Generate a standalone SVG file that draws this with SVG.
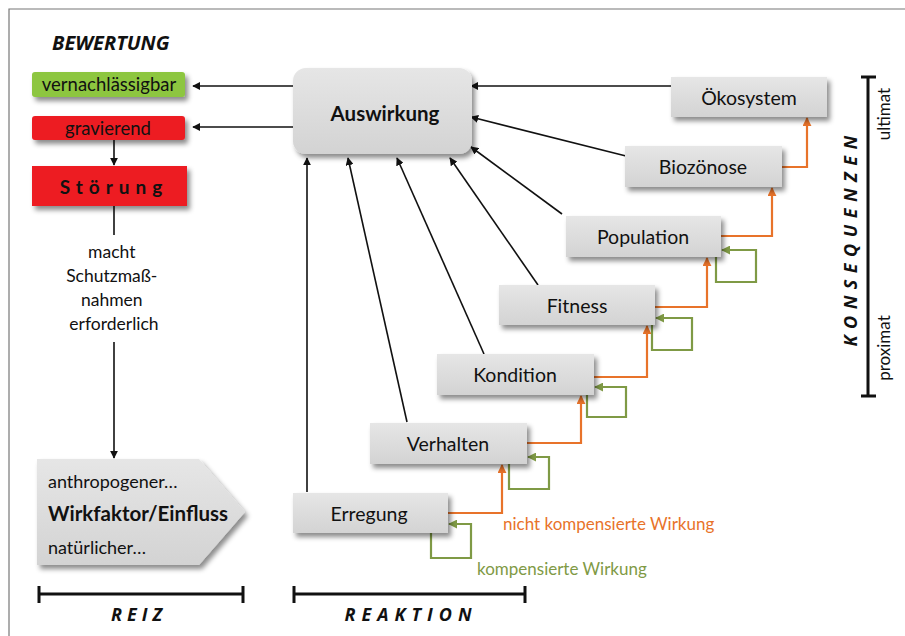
<svg xmlns="http://www.w3.org/2000/svg" width="905" height="636" viewBox="0 0 905 636">
<style>
.t{font-family:Lato,"Open Sans","Liberation Sans",sans-serif;fill:#111}
.box{fill:url(#gg);filter:url(#sh)}
.k{stroke:#111;stroke-width:1.6;fill:none}
.o{stroke:#e8732a;stroke-width:2.2;fill:none}
.g{stroke:#7f9a45;stroke-width:2.2;fill:none}
.bar{stroke:#111;stroke-width:3;fill:none}
.hdr{font-family:"Open Sans","Liberation Sans",sans-serif;font-weight:bold;font-style:italic;fill:#111}
</style>
<defs>
<linearGradient id="gg" x1="0" y1="0" x2="0" y2="1">
<stop offset="0" stop-color="#e6e6e6"/>
<stop offset="1" stop-color="#d3d3d3"/>
</linearGradient>
<filter id="sh" x="-10%" y="-20%" width="130%" height="160%">
<feDropShadow dx="3" dy="4" stdDeviation="2.5" flood-color="#000" flood-opacity="0.45"/>
</filter>
<marker id="ak" viewBox="0 0 10 10" refX="9" refY="5" markerWidth="8" markerHeight="8" markerUnits="userSpaceOnUse" orient="auto">
<path d="M0,0 L10,5 L0,10 z" fill="#111"/>
</marker>
<marker id="ao" viewBox="0 0 10 10" refX="9" refY="5" markerWidth="9" markerHeight="9" markerUnits="userSpaceOnUse" orient="auto">
<path d="M0,0 L10,5 L0,10 z" fill="#e8732a"/>
</marker>
<marker id="ag" viewBox="0 0 10 10" refX="9" refY="5" markerWidth="9" markerHeight="9" markerUnits="userSpaceOnUse" orient="auto">
<path d="M0,0 L10,5 L0,10 z" fill="#7f9a45"/>
</marker>
</defs>
<rect width="905" height="636" fill="#fff"/>
<path d="M9,636 V9 H905" stroke="#777" stroke-width="1.2" fill="none"/>

<text class="hdr" x="52" y="50" font-size="20">BEWERTUNG</text>

<g id="connectors">
<path class="k" d="M671,86 H471" marker-end="url(#ak)"/>
<path class="k" d="M626,156 L471,117" marker-end="url(#ak)"/>
<path class="k" d="M562,214 L471,147" marker-end="url(#ak)"/>
<path class="k" d="M538,285 L450,158" marker-end="url(#ak)"/>
<path class="k" d="M484,354 L397,158" marker-end="url(#ak)"/>
<path class="k" d="M407,422 L348,158" marker-end="url(#ak)"/>
<path class="k" d="M307,492 V158" marker-end="url(#ak)"/>
<path class="k" d="M293,86 H193" marker-end="url(#ak)"/>
<path class="k" d="M293,127 H193" marker-end="url(#ak)"/>
<path class="k" d="M114,140 V165" marker-end="url(#ak)"/>
<path class="k" d="M114,206 V235"/>
<path class="k" d="M114,342 V458" marker-end="url(#ak)"/>
<path class="o" d="M448,513 H502 V465" marker-end="url(#ao)"/>
<path class="o" d="M527,443 H581 V396" marker-end="url(#ao)"/>
<path class="o" d="M594,377 H647 V326" marker-end="url(#ao)"/>
<path class="o" d="M655,307 H707 V258" marker-end="url(#ao)"/>
<path class="o" d="M721,236 H772 V188" marker-end="url(#ao)"/>
<path class="o" d="M782,167 H807 V118" marker-end="url(#ao)"/>
<path class="g" d="M431,533 V558 H471 V524 H449" marker-end="url(#ag)"/>
<path class="g" d="M509,464 V489 H549 V457 H528" marker-end="url(#ag)"/>
<path class="g" d="M587,395 V417 H626 V387 H595" marker-end="url(#ag)"/>
<path class="g" d="M652,325 V350 H692 V318 H656" marker-end="url(#ag)"/>
<path class="g" d="M716,257 V282 H756 V250 H722" marker-end="url(#ag)"/>
</g>

<g id="vernachlaessigbar">
<rect x="32" y="72" width="153" height="25" rx="3" fill="#8dc63f" filter="url(#sh)"/>
<text class="t" x="109" y="91" font-size="18.5" text-anchor="middle">vernachlässigbar</text>
</g>
<g id="gravierend">
<rect x="32" y="116" width="153" height="24" rx="3" fill="#ed1c24" filter="url(#sh)"/>
<text class="t" x="108" y="134.5" font-size="18.5" text-anchor="middle">gravierend</text>
</g>
<g id="stoerung">
<rect x="32" y="166" width="155" height="40" fill="#ed1c24" filter="url(#sh)"/>
<text class="t" x="114" y="193.5" font-size="19" font-weight="bold" letter-spacing="6" text-anchor="middle">Störung</text>
</g>
<g id="schutz">
<text class="t" font-size="17.5" text-anchor="middle">
<tspan x="114" y="258">macht</tspan>
<tspan x="114" y="282">Schutzmaß-</tspan>
<tspan x="114" y="306">nahmen</tspan>
<tspan x="114" y="330">erforderlich</tspan>
</text>
</g>
<g id="wirkfaktor">
<path d="M37,459 H199 L245,512 L199,565 H37 Z" class="box"/>
<text class="t" x="48" y="488" font-size="18">anthropogener…</text>
<text class="t" x="48" y="521" font-size="20.5" font-weight="bold">Wirkfaktor/Einfluss</text>
<text class="t" x="48" y="554" font-size="18">natürlicher…</text>
</g>

<g id="auswirkung">
<rect x="293" y="68" width="179" height="86" rx="13" class="box"/>
<text class="t" x="385" y="121" font-size="20.5" font-weight="bold" text-anchor="middle">Auswirkung</text>
</g>
<g id="oekosystem">
<rect x="671" y="77" width="156" height="40" class="box"/>
<text class="t" x="749" y="104.5" font-size="19.5" text-anchor="middle">Ökosystem</text>
</g>
<g id="biozoenose">
<rect x="625" y="146" width="157" height="41" class="box"/>
<text class="t" x="703" y="173.5" font-size="19.5" text-anchor="middle">Biozönose</text>
</g>
<g id="population">
<rect x="566" y="216" width="155" height="41" class="box"/>
<text class="t" x="643" y="243.5" font-size="19.5" text-anchor="middle">Population</text>
</g>
<g id="fitness">
<rect x="499" y="285" width="156" height="40" class="box"/>
<text class="t" x="577" y="312.5" font-size="19.5" text-anchor="middle">Fitness</text>
</g>
<g id="kondition">
<rect x="437" y="354" width="157" height="41" class="box"/>
<text class="t" x="515" y="381.5" font-size="19.5" text-anchor="middle">Kondition</text>
</g>
<g id="verhalten">
<rect x="370" y="423" width="157" height="41" class="box"/>
<text class="t" x="448" y="450.5" font-size="19.5" text-anchor="middle">Verhalten</text>
</g>
<g id="erregung">
<rect x="293" y="493" width="155" height="40" class="box"/>
<text class="t" x="369" y="520.5" font-size="19.5" text-anchor="middle">Erregung</text>
</g>

<g id="legend">
<text class="t" x="503" y="530" font-size="17" style="fill:#e8732a">nicht kompensierte Wirkung</text>
<text class="t" x="477" y="575" font-size="17" style="fill:#7f9a45">kompensierte Wirkung</text>
</g>

<g id="reiz">
<path class="bar" d="M39,594 H243 M39,586 V603 M243,586 V603"/>
<text class="hdr" x="139" y="621" font-size="18" letter-spacing="5" text-anchor="middle">REIZ</text>
</g>
<g id="reaktion">
<path class="bar" d="M294,594 H525 M294,586 V603 M525,586 V603"/>
<text class="hdr" x="411" y="621" font-size="18" letter-spacing="6" text-anchor="middle">REAKTION</text>
</g>
<g id="konsequenzen">
<path class="bar" d="M868,77 V396 M861,77 H876 M861,396 H876"/>
<text class="hdr" transform="translate(857,238) rotate(-90)" font-size="18" letter-spacing="6.5" text-anchor="middle">KONSEQUENZEN</text>
<text class="t" transform="translate(890,114) rotate(-90)" font-size="17" text-anchor="middle">ultimat</text>
<text class="t" transform="translate(890,348) rotate(-90)" font-size="17" text-anchor="middle">proximat</text>
</g>
</svg>
